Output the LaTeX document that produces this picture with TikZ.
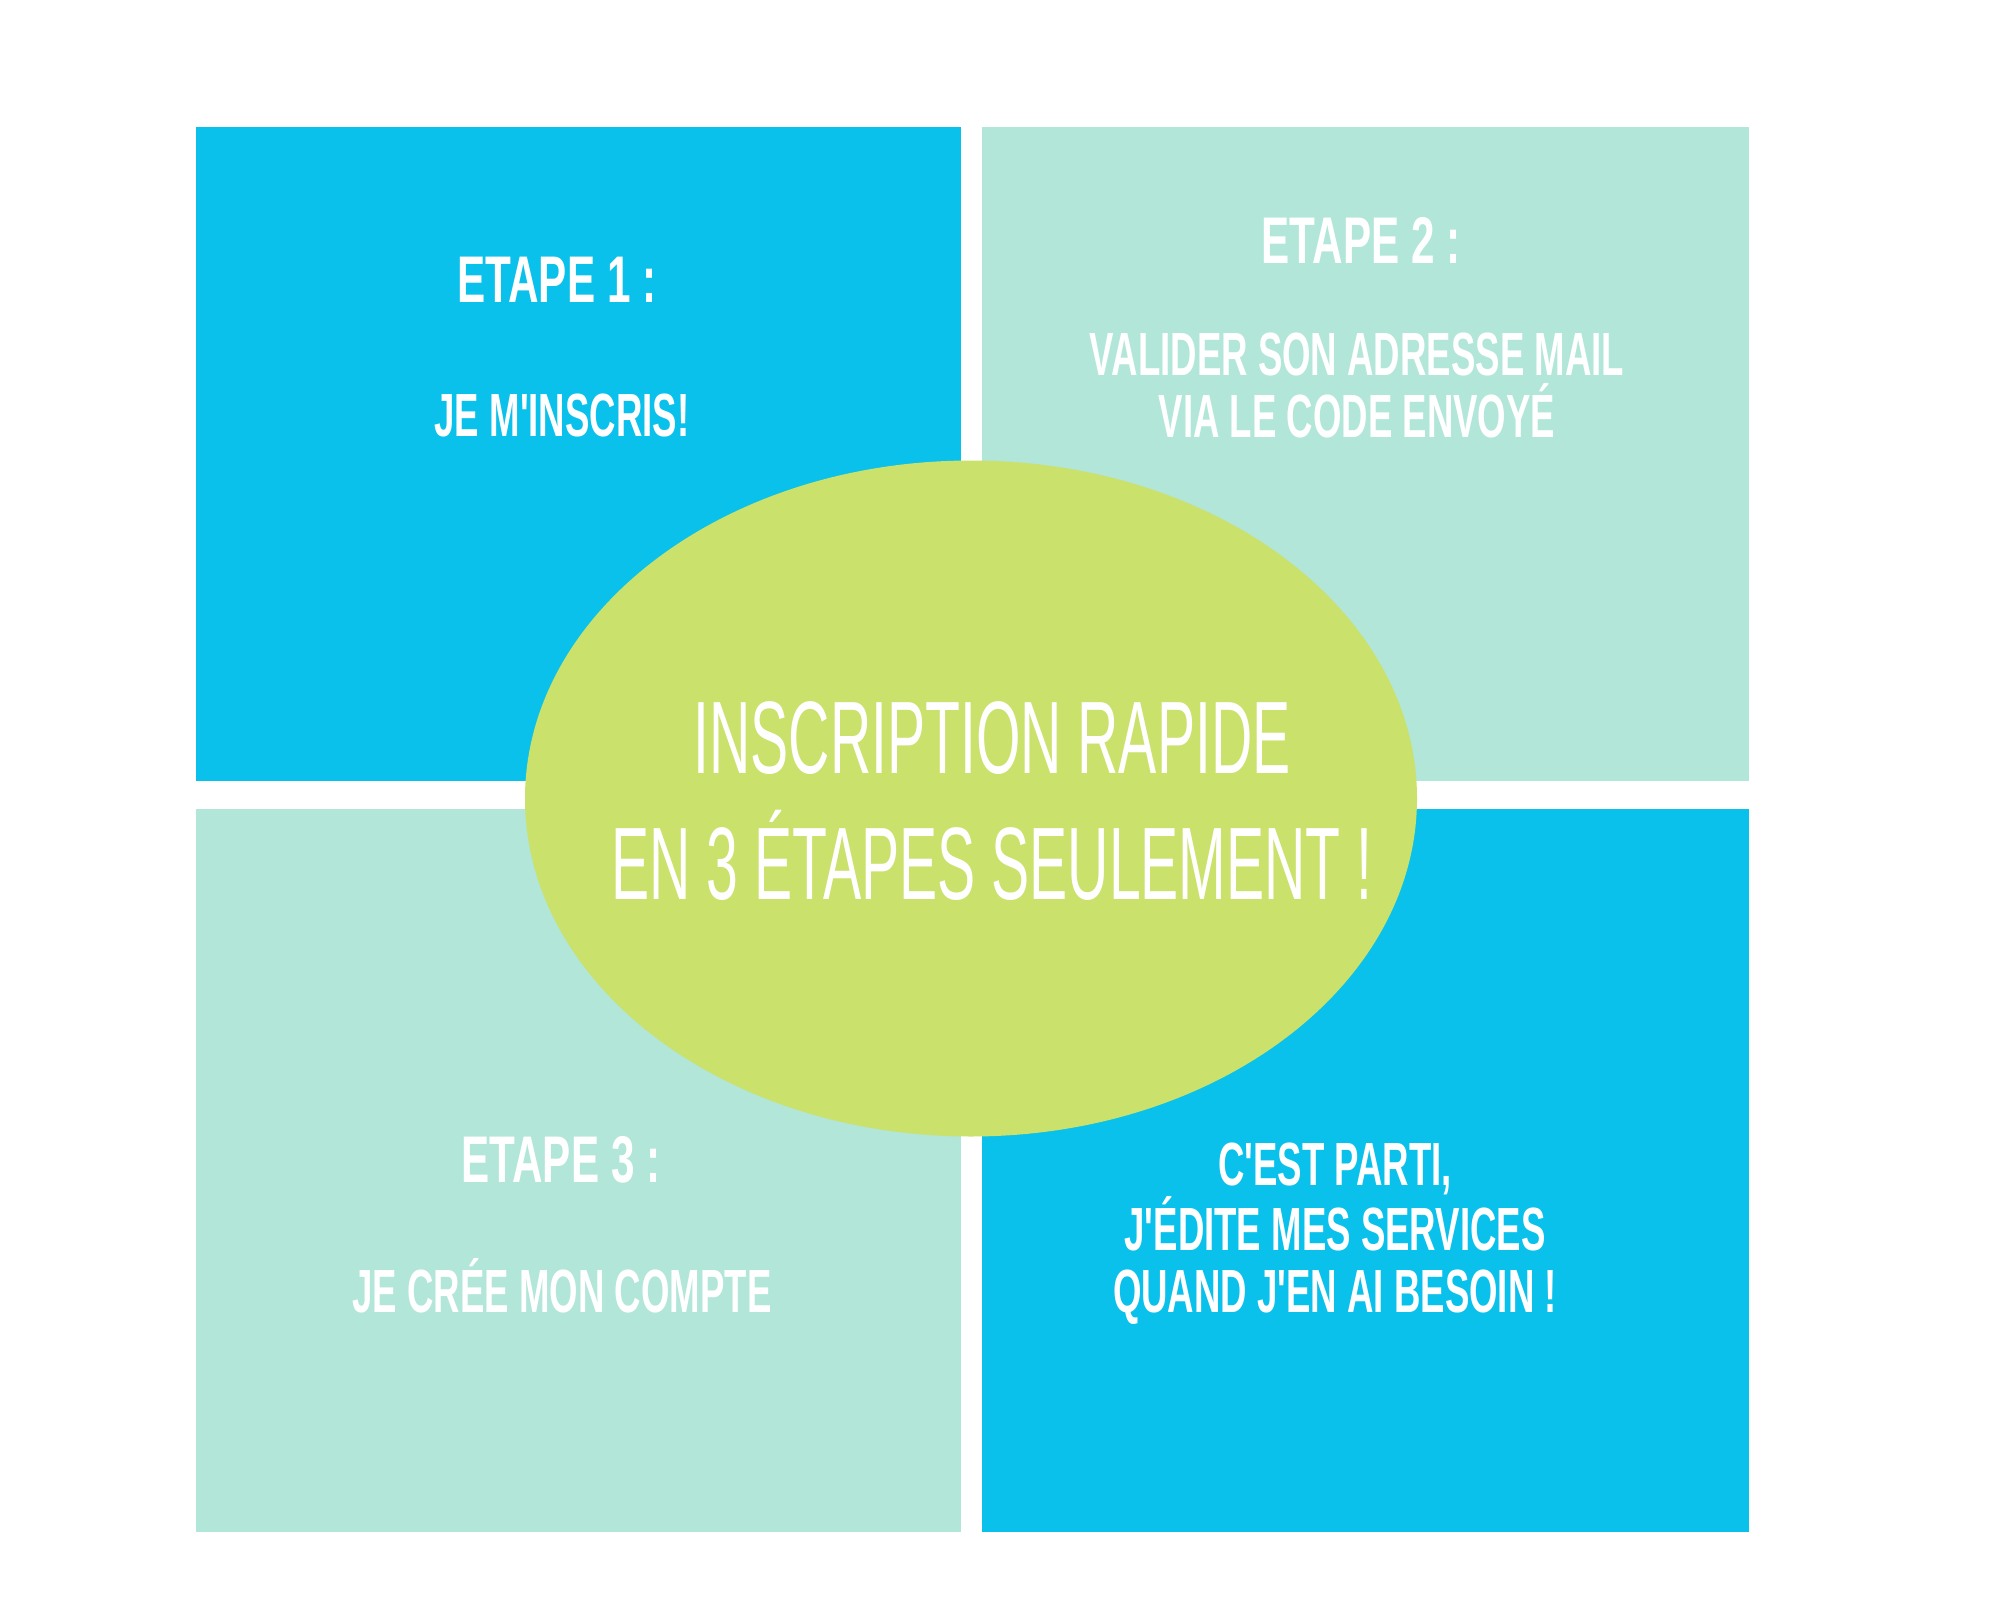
\documentclass[tikz,border=0pt]{standalone}
\usepackage{fontspec}
\setmainfont{Liberation Sans}
\newcommand{\apos}{\textquotesingle}
\begin{document}
\begin{tikzpicture}[x=1pt,y=-1pt,
  etape/.style={text=white,anchor=base,inner sep=0pt,outer sep=0pt,xscale=0.64,transform shape,font=\fontsize{66}{66}\selectfont\bfseries},
  texte/.style={text=white,anchor=base,inner sep=0pt,outer sep=0pt,align=center,xscale=0.60,transform shape,font=\fontsize{61}{62}\selectfont\bfseries},
  titre/.style={text=white,anchor=base,inner sep=0pt,outer sep=0pt,align=center,xscale=0.555,transform shape,font=\fontsize{103}{126}\selectfont}]
\definecolor{fillColor}{RGB}{255,255,255}
\path[use as bounding box,fill=fillColor] (0,0) rectangle (2000,1600);
\begin{scope}
\definecolor{fillColor}{RGB}{10,193,235}

\path[fill=fillColor] (195.50,127.50) rectangle (960.50,780.50);

\path[fill=fillColor] (982.00,808.50) rectangle (1749.00,1532.00);
\definecolor{fillColor}{RGB}{177,230,217}

\path[fill=fillColor] (982.00,127.50) rectangle (1749.00,780.50);

\path[fill=fillColor] (195.50,808.50) rectangle (960.50,1532.00);
\end{scope}
\begin{scope}
\definecolor{fillColor}{RGB}{202,225,107}

\path[fill=fillColor] (971.00,798.50) ellipse [x radius=446, y radius=338];
\end{scope}
\begin{scope}

\node[etape] (e1) at ( 557.00, 302.00) {ETAPE 1 :};

\node[texte] (t1) at ( 562.00, 436.00) {JE M\apos INSCRIS!};

\node[etape] (e2) at (1361.00, 263.00) {ETAPE 2 :};

\node[texte] (t2) at (1357.00, 437.50) {VALIDER SON ADRESSE MAIL\\VIA LE CODE ENVOYÉ};

\node[titre] (titre) at ( 992.00, 899.00) {INSCRIPTION RAPIDE\\EN 3 ÉTAPES SEULEMENT !};

\node[etape] (e3) at ( 561.00,1182.00) {ETAPE 3 :};

\node[texte] (t3) at ( 562.00,1312.00) {JE CRÉE MON COMPTE};

\node[texte] (t4) at (1335.00,1312.00) {C\apos EST PARTI,\\J\apos ÉDITE MES SERVICES\\QUAND J\apos EN AI BESOIN !};
\end{scope}
\end{tikzpicture}
\end{document}
